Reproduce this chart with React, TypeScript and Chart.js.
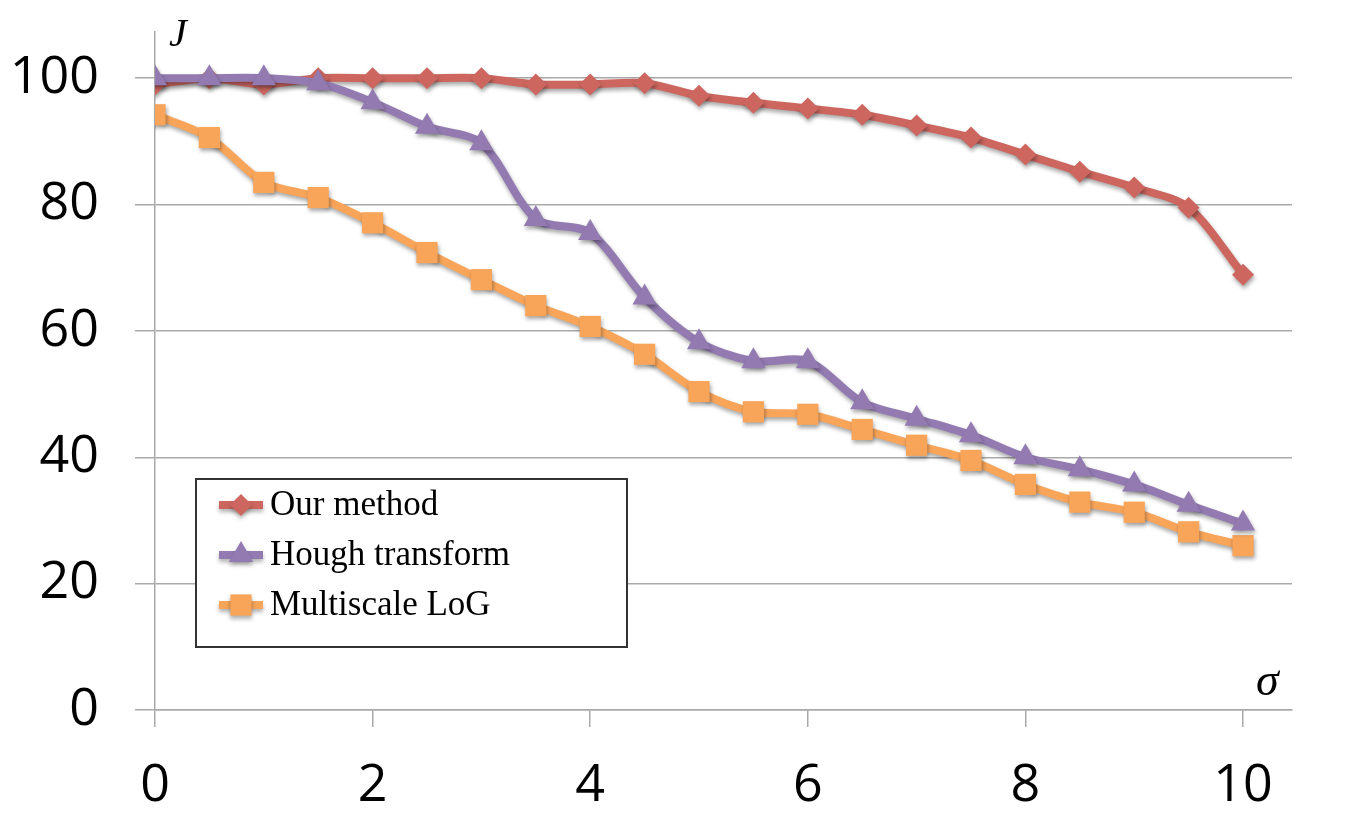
import React, { useEffect, useRef } from "react";
import { Chart, registerables } from "chart.js";

Chart.register(...registerables);

const sigma = [0, 0.5, 1, 1.5, 2, 2.5, 3, 3.5, 4, 4.5, 5, 5.5, 6, 6.5, 7, 7.5, 8, 8.5, 9, 9.5, 10];
const ourMethod = [99, 100, 99, 100, 100, 100, 100, 99, 99, 99.2, 97.2, 96.1, 95.2, 94.2, 92.5, 90.6, 87.9, 85.2, 82.7, 79.5, 68.9];
const hough = [100, 100, 100, 99.2, 96.2, 92.3, 89.7, 77.7, 75.5, 65.3, 58.2, 55.2, 55.2, 48.7, 46.1, 43.5, 40, 38.1, 35.7, 32.5, 29.5];
const multiscaleLoG = [94.2, 90.6, 83.5, 81.1, 77.1, 72.4, 68.1, 64, 60.7, 56.3, 50.4, 47.2, 46.8, 44.4, 41.9, 39.5, 35.7, 32.9, 31.3, 28.2, 26];
const seriesNames = ["Our method", "Hough transform", "Multiscale LoG"];
const yTicks = [0, 20, 40, 60, 80, 100];
const xTicks = [0, 2, 4, 6, 8, 10];

const RED = "#CC665F";
const PURPLE = "#937BB2";
const ORANGE = "#F8A55A";
const GRID = "#a9a9a9";

function drawMarker(ctx: CanvasRenderingContext2D, style: string, x: number, y: number, r: number) {
  ctx.beginPath();
  if (style === "rectRot") {
    ctx.moveTo(x, y - r);
    ctx.lineTo(x + r, y);
    ctx.lineTo(x, y + r);
    ctx.lineTo(x - r, y);
  } else if (style === "triangle") {
    ctx.moveTo(x, y - r);
    ctx.lineTo(x + r * 0.866, y + r * 0.5);
    ctx.lineTo(x - r * 0.866, y + r * 0.5);
  } else {
    const s = r * Math.SQRT1_2;
    ctx.rect(x - s, y - s, 2 * s, 2 * s);
  }
  ctx.closePath();
  ctx.fill();
}

const shadowPlugin = {
  id: "shadowPlugin",
  beforeDatasetsDraw(chart: any) {
    const ctx = chart.ctx;
    ctx.save();
    ctx.shadowColor = "rgba(0,0,0,0.35)";
    ctx.shadowBlur = 4;
    ctx.shadowOffsetX = 1;
    ctx.shadowOffsetY = 3;
  },
  afterDatasetsDraw(chart: any) {
    chart.ctx.restore();
  },
};

const decorPlugin = {
  id: "decorPlugin",
  afterDraw(chart: any) {
    const ctx: CanvasRenderingContext2D = chart.ctx;
    const area = chart.chartArea;
    ctx.save();
    ctx.fillStyle = "#000";
    ctx.textBaseline = "alphabetic";
    ctx.textAlign = "left";
    ctx.font = 'italic 40px "Liberation Serif"';
    ctx.fillText("J", area.left + 14, area.top + 14);
    ctx.font = 'italic 46px "Liberation Serif"';
    ctx.fillText("σ", area.right - 36, area.bottom - 15);

    // legend
    const bx = 196, by = 479, bw = 431, bh = 168;
    ctx.fillStyle = "#fff";
    ctx.fillRect(bx, by, bw, bh);
    ctx.strokeStyle = "#333";
    ctx.lineWidth = 2;
    ctx.strokeRect(bx, by, bw, bh);
    const ds = chart.data.datasets;
    [0, 1, 2].forEach((i, k) => {
      const d = ds[i];
      const cy = 505 + k * 50;
      ctx.save();
      ctx.shadowColor = "rgba(0,0,0,0.3)";
      ctx.shadowBlur = 4;
      ctx.shadowOffsetY = 3;
      ctx.strokeStyle = d.borderColor;
      ctx.lineWidth = 8;
      ctx.beginPath();
      ctx.moveTo(219, cy);
      ctx.lineTo(263, cy);
      ctx.stroke();
      ctx.fillStyle = d.backgroundColor;
      drawMarker(ctx, d.pointStyle, 241, cy, d.pointRadius);
      ctx.restore();
      ctx.fillStyle = "#000";
      ctx.font = '35px "Liberation Serif"';
      ctx.textBaseline = "middle";
      ctx.fillText(d.label, 270, cy + 1);
    });
    ctx.restore();
  },
};

export default function App() {
  const ref = useRef<HTMLCanvasElement>(null);
  useEffect(() => {
    document.body.style.margin = "0";
    const toPts = (arr: number[]) => arr.map((v, i) => ({ x: sigma[i], y: v }));
    const chart = new Chart(ref.current!, {
      type: "line",
      data: {
        datasets: [
          {
            label: seriesNames[0],
            data: toPts(ourMethod),
            borderColor: RED,
            backgroundColor: RED,
            pointStyle: "rectRot",
            pointRadius: 11,
            pointBorderWidth: 0,
            borderWidth: 8,
            tension: 0.3,
            order: 1,
          },
          {
            label: seriesNames[1],
            data: toPts(hough),
            borderColor: PURPLE,
            backgroundColor: PURPLE,
            pointStyle: "triangle",
            pointRadius: 14,
            pointBorderWidth: 0,
            borderWidth: 8,
            tension: 0.3,
            order: 0,
          },
          {
            label: seriesNames[2],
            data: toPts(multiscaleLoG),
            borderColor: ORANGE,
            backgroundColor: ORANGE,
            pointStyle: "rect",
            pointRadius: 15,
            pointBorderWidth: 0,
            borderWidth: 8,
            tension: 0.3,
            order: 2,
          },
        ] as any,
      },
      options: {
        animation: false,
        responsive: false,
        devicePixelRatio: 1,
        layout: { padding: { left: 0, right: 56, top: 32, bottom: 0 } },
        plugins: { legend: { display: false }, tooltip: { enabled: false } },
        scales: {
          x: {
            type: "linear",
            min: 0,
            max: 10.45,
            afterFit(scale: any) {
              scale.height = 118;
              scale.paddingLeft = 0;
              scale.paddingRight = 0;
            },
            afterBuildTicks(scale: any) {
              scale.ticks = xTicks.map((v) => ({ value: v }));
            },
            ticks: {
              font: { family: '"Open Sans"', size: 52 },
              color: "#000",
              padding: 28,
              maxRotation: 0,
            },
            grid: { drawOnChartArea: false, drawTicks: true, tickLength: 17, color: GRID, lineWidth: 1.5 },
            border: { display: true, color: GRID, width: 1.5 },
          },
          y: {
            min: 0,
            max: 107.3,
            afterFit(scale: any) {
              scale.width = 155;
              scale.paddingTop = 0;
              scale.paddingBottom = 0;
            },
            afterBuildTicks(scale: any) {
              scale.ticks = yTicks.map((v) => ({ value: v }));
            },
            ticks: {
              font: { family: '"Open Sans"', size: 52 },
              color: "#000",
              padding: 36,
            },
            grid: { drawOnChartArea: true, drawTicks: true, tickLength: 20, color: GRID, lineWidth: 1.5 },
            border: { display: true, color: GRID, width: 1.5 },
          },
        },
      },
      plugins: [shadowPlugin, decorPlugin],
    });
    return () => chart.destroy();
  }, []);
  return (
    <div style={{ position: "absolute", left: 0, top: 0, width: 1348, height: 828, background: "#fff" }}>
      <canvas ref={ref} width={1348} height={828} style={{ width: 1348, height: 828 }} />
    </div>
  );
}
